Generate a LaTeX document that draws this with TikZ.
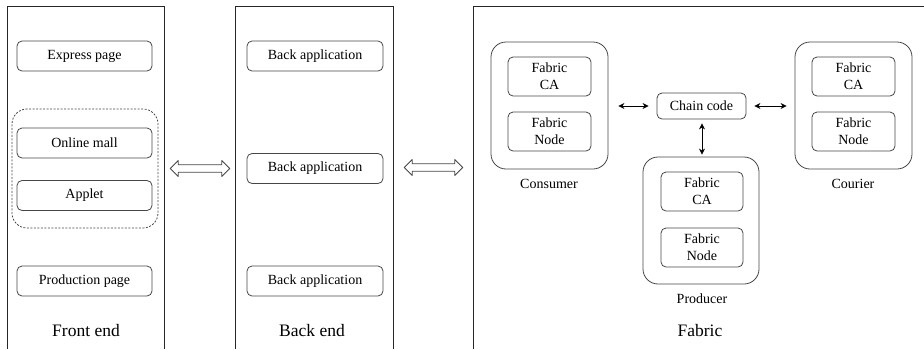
\documentclass[tikz,border=0pt]{standalone}
\usepackage{fontspec}
\setmainfont{Liberation Serif}
\usetikzlibrary{arrows.meta,positioning,calc}
\definecolor{linegray}{RGB}{70,70,70}
\tikzset{
    panel/.style={minimum width=#1, minimum height=342pt, inner sep=0pt},
    appbox/.style={draw=linegray, thick, rounded corners=5pt, minimum width=#1, minimum height=30pt, inner sep=0pt},
    fabbox/.style={draw=linegray, thick, rounded corners=5pt, minimum width=#1, minimum height=39pt, inner sep=0pt, align=center},
    orgbox/.style={draw=linegray, thick, rounded corners=15pt, minimum width=#1, minimum height=127pt, inner sep=0pt},
    biglabel/.style={font=\fontsize{17.5}{20}\selectfont},
    % hollow two-headed arrow, drawn as an outline
    bigarrow/.style={draw=linegray, thick, line join=round,
        to path={let \p1=(\tikztostart), \p2=(\tikztotarget) in
            (\x1,\y1) -- (\x1+8pt,\y1+8pt) -- (\x1+8pt,\y1+3.75pt) -- (\x2-8pt,\y1+3.75pt)
            -- (\x2-8pt,\y1+8pt) -- (\x2,\y1) -- (\x2-8pt,\y1-8pt) -- (\x2-8pt,\y1-3.75pt)
            -- (\x1+8pt,\y1-3.75pt) -- (\x1+8pt,\y1-8pt) -- cycle}},
    smallarrow/.style={thick, {Stealth[length=6pt,width=6pt]}-{Stealth[length=6pt,width=6pt]}}
}

\begin{document}
\begin{tikzpicture}[x=1pt, y=-1pt, every node/.style={font=\fontsize{14}{17}\selectfont}]
    \useasboundingbox (0,0) rectangle (924,349);

    % Panels
    \node[panel=156pt] (front) at (86, 178) {};
    \node[panel=157pt] (back) at (314.5, 178) {};
    \node[panel=450pt] (fabric) at (699, 178) {};
    \draw[black!85, thick] (front.south west) |- (front.north east) -- (front.south east);
    \draw[black!85, thick] (back.south west) |- (back.north east) -- (back.south east);
    \draw[black!85, thick] (fabric.south west) |- (fabric.north east);

    % Front end
    \node[appbox=135pt] (express) at (84.5, 56) {Express page};
    \node[draw=linegray, thick, dash pattern=on 2pt off 1.5pt, rounded corners=15pt, minimum width=146pt, minimum height=119pt] (group) at (85, 168.5) {};
    \node[appbox=135pt] (mall) at (84.5, 143) {Online mall};
    \node[appbox=135pt] (applet) at (84.5, 195.5) {Applet};
    \node[appbox=135pt] (production) at (84.5, 281) {Production page};
    \node[biglabel] (frontlabel) at (86, 331) {Front end};

    % Back end
    \node[appbox=136pt] (ba1) at (315, 56) {Back application};
    \node[appbox=136pt] (ba2) at (315, 168.5) {Back application};
    \node[appbox=136pt] (ba3) at (315, 281) {Back application};
    \node[biglabel] (backlabel) at (312, 331) {Back end};

    % Fabric
    \node[orgbox=117pt] (consumer) at (549.5, 105.5) {};
    \node[fabbox=83pt] (ca1) at (549.5, 76.5) {Fabric\\CA};
    \node[fabbox=83pt] (fn1) at (549.5, 131.5) {Fabric\\Node};
    \node (consumerlabel) at (549, 184) {Consumer};

    \node[appbox=89pt, minimum height=26pt] (chain) at (701.5, 106) {Chain code};

    \node[orgbox=116pt] (producer) at (701, 220.5) {};
    \node[fabbox=82pt] (ca2) at (702, 191.5) {Fabric\\CA};
    \node[fabbox=82pt] (fn2) at (702, 247.5) {Fabric\\Node};
    \node (producerlabel) at (702, 299) {Producer};

    \node[orgbox=117pt] (courier) at (853.5, 105.5) {};
    \node[fabbox=83pt] (ca3) at (853.5, 76.5) {Fabric\\CA};
    \node[fabbox=83pt] (fn3) at (853.5, 131.5) {Fabric\\Node};
    \node (courierlabel) at (853, 184) {Courier};

    \node[biglabel] (fabriclabel) at (700, 331) {Fabric};

    % Connections
    \draw[bigarrow] ([xshift=6pt]group -| front.east) to ([xshift=-6pt]group -| back.west);
    \draw[bigarrow] ([xshift=11pt, yshift=1pt]ba2 -| back.east) to ([xshift=-11pt]ba2 -| fabric.west);

    \draw[smallarrow, shorten <=10pt, shorten >=8pt] (consumer.east |- chain.west) -- (chain.west);
    \draw[smallarrow, shorten <=8pt, shorten >=8pt] (chain.east) -- (courier.west |- chain.east);
    \draw[smallarrow, shorten <=4pt, shorten >=2pt] (chain.south -| ca2) -- (producer.north -| ca2);

\end{tikzpicture}
\end{document}
